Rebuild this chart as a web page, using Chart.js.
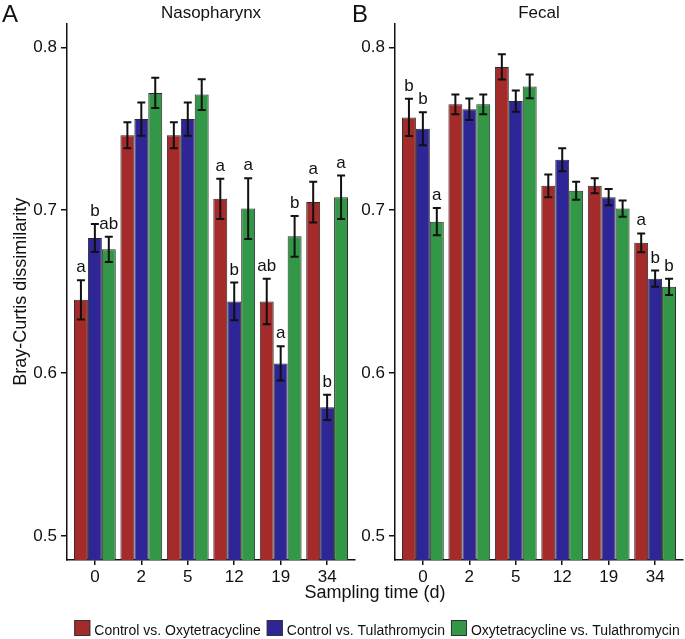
<!DOCTYPE html>
<html>
<head>
<meta charset="utf-8">
<script src="https://cdn.jsdelivr.net/npm/chart.js@4.4.0/dist/chart.umd.min.js"></script>
<style>
  body { margin: 0; background: #fff; }
  #wrap { position: relative; width: 685px; height: 639px; }
  #wrap canvas { position: absolute; left: 0; top: 0; }
</style>
</head>
<body>
<div id="wrap">
  <canvas id="naso" width="685" height="639"></canvas>
  <canvas id="fecal" width="685" height="639"></canvas>
</div>
<script>
const days = ['0', '2', '5', '12', '19', '34'];
const seriesNames = ['Control vs. Oxytetracycline', 'Control vs. Tulathromycin', 'Oxytetracycline vs. Tulathromycin'];
const seriesColors = ['#A52A2A', '#2E2596', '#329848'];

// Nasopharynx: means, standard errors, letters
const nasoCtrlOxy = [0.645, 0.746, 0.746, 0.707, 0.644, 0.705];
const nasoCtrlTula = [0.683, 0.756, 0.756, 0.644, 0.606, 0.579];
const nasoOxyTula = [0.676, 0.772, 0.771, 0.701, 0.684, 0.708];
const nasoCtrlOxySe = [0.012, 0.008, 0.008, 0.0124, 0.014, 0.0125];
const nasoCtrlTulaSe = [0.0086, 0.0102, 0.0102, 0.0116, 0.0105, 0.0078];
const nasoOxyTulaSe = [0.0077, 0.0093, 0.0094, 0.0186, 0.0125, 0.0133];
const nasoCtrlOxyLetters = ['a', '', '', 'a', 'ab', 'a'];
const nasoCtrlTulaLetters = ['b', '', '', 'b', 'a', 'b'];
const nasoOxyTulaLetters = ['ab', '', '', 'a', 'b', 'a'];

// Fecal
const fecCtrlOxy = [0.757, 0.765, 0.788, 0.715, 0.715, 0.680];
const fecCtrlTula = [0.750, 0.762, 0.767, 0.731, 0.708, 0.658];
const fecOxyTula = [0.693, 0.765, 0.776, 0.712, 0.701, 0.653];
const fecCtrlOxySe = [0.0114, 0.006, 0.0078, 0.007, 0.0046, 0.0058];
const fecCtrlTulaSe = [0.0101, 0.0066, 0.0065, 0.007, 0.005, 0.005];
const fecOxyTulaSe = [0.0084, 0.006, 0.0073, 0.0055, 0.005, 0.005];
const fecCtrlOxyLetters = ['b', '', '', '', '', 'a'];
const fecCtrlTulaLetters = ['b', '', '', '', '', 'b'];
const fecOxyTulaLetters = ['a', '', '', '', '', 'b'];

const yTicks = [0.5, 0.6, 0.7, 0.8];

const FONT = "'Liberation Sans', Arial, sans-serif";

// error bars + significance letters
const errorBars = {
    id: 'errorBars',
    afterDatasetsDraw(chart, args, opts) {
        const ctx = chart.ctx;
        const y = chart.scales.y;
        ctx.save();
        chart.data.datasets.forEach((ds, i) => {
            const meta = chart.getDatasetMeta(i);
            meta.data.forEach((bar, j) => {
                const v = ds.data[j].y;
                const e = opts.se[i][j];
                const top = y.getPixelForValue(v + e);
                const bot = y.getPixelForValue(v - e);
                ctx.strokeStyle = '#111';
                ctx.lineWidth = 2;
                ctx.beginPath();
                ctx.moveTo(bar.x, top); ctx.lineTo(bar.x, bot);
                ctx.moveTo(bar.x - 4, top); ctx.lineTo(bar.x + 4, top);
                ctx.moveTo(bar.x - 4, bot); ctx.lineTo(bar.x + 4, bot);
                ctx.stroke();
                const t = opts.letters[i][j];
                if (t) {
                    ctx.fillStyle = '#111';
                    ctx.font = '17px ' + FONT;
                    ctx.textAlign = 'center';
                    ctx.textBaseline = 'alphabetic';
                    ctx.fillText(t, bar.x, top - 8);
                }
            });
        });
        ctx.restore();
    }
};

// panel letter, shared x title and legend
const decorations = {
    id: 'decorations',
    afterDraw(chart, args, opts) {
        const ctx = chart.ctx;
        ctx.save();
        ctx.fillStyle = '#111';
        ctx.textBaseline = 'alphabetic';
        ctx.font = '24px ' + FONT;
        ctx.textAlign = 'left';
        ctx.fillText(opts.panel, opts.panelX, 22);

        if (opts.shared) {
            ctx.font = '18px ' + FONT;
            ctx.textAlign = 'center';
            ctx.fillText('Sampling time (d)', 375, 598);

            ctx.font = '14px ' + FONT;
            const box = 16, gapText = 4, gapItem = 6;
            const items = chart.data.datasets.map(ds => ({
                label: ds.label, color: ds.backgroundColor, w: ctx.measureText(ds.label).width
            }));
            const total = items.reduce((s, it) => s + box + gapText + it.w, 0) + gapItem * (items.length - 1);
            let x = 377 - total / 2;
            ctx.textAlign = 'left';
            items.forEach(it => {
                ctx.fillStyle = it.color;
                ctx.fillRect(x, 620, box, box);
                ctx.strokeStyle = '#333';
                ctx.lineWidth = 1;
                ctx.strokeRect(x + 0.5, 620.5, box - 1, box - 1);
                x += box + gapText;
                ctx.fillStyle = '#111';
                ctx.fillText(it.label, x, 635);
                x += it.w + gapItem;
            });
        }
        ctx.restore();
    }
};

function makeChart(id, title, series, se, letters, opt) {
    return new Chart(document.getElementById(id), {
        type: 'bar',
        data: {
            datasets: series.map((vals, i) => ({
                label: seriesNames[i],
                data: vals.map((v, k) => ({ x: k, y: v })),
                backgroundColor: seriesColors[i],
                borderColor: '#2a2a2a',
                borderWidth: 1,
                borderSkipped: false,
                categoryPercentage: 0.9,
                barPercentage: 1.0
            }))
        },
        options: {
            responsive: false,
            animation: false,
            devicePixelRatio: 1,
            layout: { padding: opt.padding },
            scales: {
                x: {
                    type: 'linear',
                    offset: false,
                    min: -0.6,
                    max: days.length - 0.4,
                    afterBuildTicks: (scale) => { scale.ticks = days.map((d, k) => ({ value: k })); },
                    afterFit: (scale) => { scale.height = 30; },
                    grid: { offset: false, drawOnChartArea: false, tickLength: 5, color: '#111', lineWidth: 1.5 },
                    border: { display: true, color: '#111', width: 1.5 },
                    ticks: {
                        padding: 2,
                        color: '#111',
                        font: { family: FONT, size: 17 },
                        callback: (v) => days[v] ?? ''
                    }
                },
                y: {
                    min: 0.4853,
                    max: 0.8147,
                    afterBuildTicks: (scale) => { scale.ticks = yTicks.map(v => ({ value: v })); },
                    afterFit: (scale) => { scale.width = opt.yWidth; },
                    grid: { drawOnChartArea: false, tickLength: 6, color: '#111', lineWidth: 1.5 },
                    border: { display: true, color: '#111', width: 1.5 },
                    ticks: {
                        padding: 4,
                        color: '#111',
                        font: { family: FONT, size: 17 },
                        callback: (v) => v.toFixed(1)
                    },
                    title: {
                        display: opt.yTitle,
                        text: 'Bray-Curtis dissimilarity',
                        color: '#111',
                        font: { family: FONT, size: 18 },
                        padding: { top: 10, bottom: 0 }
                    }
                }
            },
            plugins: {
                legend: { display: false },
                tooltip: { enabled: false },
                title: {
                    display: true,
                    text: title,
                    fullSize: false,
                    color: '#111',
                    font: { family: FONT, size: 17, weight: 'normal' },
                    padding: { top: 3, bottom: 0 }
                },
                errorBars: { se: se, letters: letters },
                decorations: opt.deco
            }
        },
        plugins: [errorBars, decorations]
    });
}

makeChart('naso', 'Nasopharynx',
    [nasoCtrlOxy, nasoCtrlTula, nasoOxyTula],
    [nasoCtrlOxySe, nasoCtrlTulaSe, nasoOxyTulaSe],
    [nasoCtrlOxyLetters, nasoCtrlTulaLetters, nasoOxyTulaLetters],
    {
        padding: { left: 0, right: 330, top: 0, bottom: 49 },
        yWidth: 67,
        yTitle: true,
        deco: { panel: 'A', panelX: 2, shared: true }
    });

makeChart('fecal', 'Fecal',
    [fecCtrlOxy, fecCtrlTula, fecOxyTula],
    [fecCtrlOxySe, fecCtrlTulaSe, fecOxyTulaSe],
    [fecCtrlOxyLetters, fecCtrlTulaLetters, fecOxyTulaLetters],
    {
        padding: { left: 345, right: 2, top: 0, bottom: 49 },
        yWidth: 50,
        yTitle: false,
        deco: { panel: 'B', panelX: 352, shared: false }
    });
</script>
</body>
</html>
